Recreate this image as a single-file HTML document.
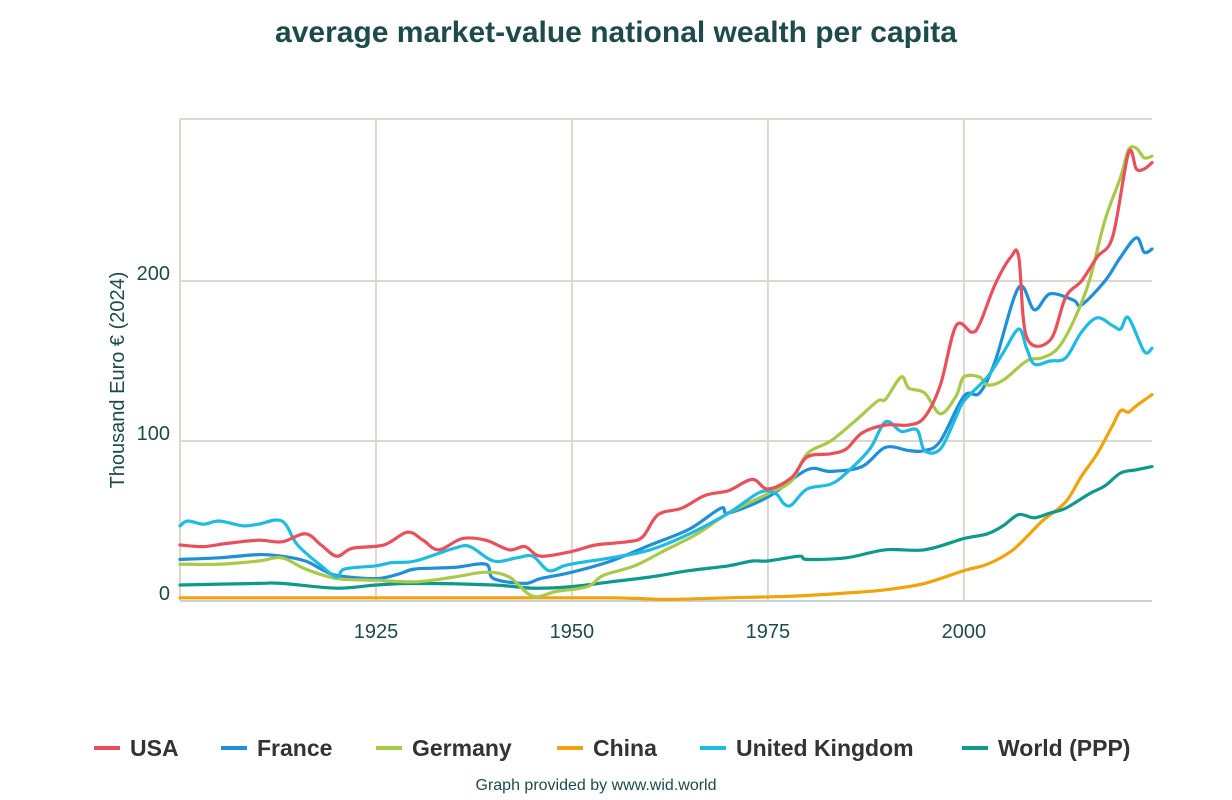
<!DOCTYPE html>
<html><head><meta charset="utf-8"><style>
body{margin:0;background:#fff;font-family:"Liberation Sans",sans-serif}
svg{display:block}
</style></head><body>
<svg id="chart" width="1232" height="800">
<text x="616" y="42" text-anchor="middle" font-size="30" font-weight="bold" fill="#1d4b4a">average market-value national wealth per capita</text>
<g id="grid"></g>
<g id="lines"></g>
<text transform="translate(124,380) rotate(-90)" text-anchor="middle" font-size="20" fill="#1d4b4a">Thousand Euro € (2024)</text>
<g id="legend"></g>
<text x="596" y="790" text-anchor="middle" font-size="16" fill="#1d4b4a">Graph provided by www.wid.world</text>
</svg>
<script>
const xTicks=[1925,1950,1975,2000];
const yTicks=[0,100,200];
const seriesNames=["USA","France","Germany","China","United Kingdom","World (PPP)"];
const colors=["#e8505b","#1f8fd8","#a8c94a","#f2a20a","#1fbbe0","#0e9a8b"];
const usaYears=[1900,1903,1906,1910,1913,1916,1918,1920,1922,1926,1929,1931,1933,1936,1939,1942,1944,1946,1950,1953,1957,1959,1961,1964,1967,1970,1973,1975,1978,1980,1983,1985,1987,1990,1993,1995,1997,1999,2001,2002,2004,2006,2007,2008,2011,2013,2015,2017,2019,2021,2022,2023,2024];
const usaValues=[35,34,36,38,37,42,35,28,33,35,43,38,32,39,38,32,34,28,31,35,37,40,54,58,66,69,76,70,77,90,92,95,105,110,110,115,135,172,168,173,198,215,215,165,163,190,200,215,228,280,270,270,274];
const franceYears=[1900,1905,1910,1913,1916,1918,1920,1925,1928,1930,1935,1939,1940,1944,1946,1950,1955,1960,1965,1969,1970,1975,1980,1983,1987,1990,1993,1995,1997,2000,2002,2004,2007,2009,2011,2014,2015,2018,2020,2022,2023,2024];
const franceValues=[26,27,29,28,25,20,16,14,17,20,21,23,14,11,14,18,25,35,45,58,55,65,82,81,84,96,94,94,100,128,130,150,196,182,192,188,185,200,215,227,218,220];
const germanyYears=[1900,1905,1910,1913,1916,1920,1925,1930,1935,1939,1942,1945,1948,1952,1954,1958,1962,1966,1970,1975,1978,1980,1983,1986,1989,1990,1992,1993,1995,1997,1999,2000,2002,2003,2005,2008,2010,2012,2014,2016,2018,2020,2021,2022,2023,2024];
const germanyValues=[23,23,25,27,20,14,13,12,15,18,15,3,6,9,16,22,32,42,55,67,75,92,100,112,125,126,140,133,130,117,128,140,140,135,138,150,152,158,175,200,238,265,282,283,277,278];
const chinaYears=[1900,1920,1940,1955,1962,1970,1978,1985,1990,1995,2000,2003,2006,2008,2010,2013,2015,2017,2019,2020,2021,2022,2024];
const chinaValues=[2,2,2,2,1,2,3,5,7,11,19,23,31,40,50,62,78,92,110,119,118,122,129];
const ukYears=[1900,1901,1903,1905,1908,1910,1913,1915,1918,1920,1921,1925,1927,1930,1935,1937,1940,1943,1945,1947,1949,1951,1955,1960,1965,1970,1974,1976,1977,1978,1980,1983,1985,1988,1990,1992,1994,1995,1997,1999,2000,2003,2005,2007,2008,2009,2011,2013,2015,2017,2019,2020,2021,2023,2024];
const ukValues=[47,50,48,50,47,48,50,35,22,15,20,22,24,25,33,34,25,27,28,19,22,24,27,32,42,55,68,67,61,60,70,73,80,95,112,106,107,94,95,115,125,140,155,170,158,148,150,152,168,177,172,170,177,156,158];
const worldYears=[1900,1910,1913,1920,1925,1930,1940,1945,1950,1955,1960,1965,1970,1973,1975,1979,1980,1985,1990,1995,2000,2003,2005,2007,2009,2011,2013,2016,2018,2020,2022,2024];
const worldValues=[10,11,11,8,10,11,10,8,9,12,15,19,22,25,25,28,26,27,32,32,39,42,47,54,52,55,58,67,72,80,82,84];
const allYears=[usaYears,franceYears,germanyYears,chinaYears,ukYears,worldYears];
const allValues=[usaValues,franceValues,germanyValues,chinaValues,ukValues,worldValues];
const X0=180,X1=1152,Y0=601,Y1=119;
const xS=y=>X0+(y-1900)*(X1-X0)/124;
const yS=v=>Y0-v*1.6;
const NS="http://www.w3.org/2000/svg";
function mk(tag,at,parent){const e=document.createElementNS(NS,tag);for(const k in at)e.setAttribute(k,at[k]);parent.appendChild(e);return e;}
const grid=document.getElementById('grid');
xTicks.forEach(t=>{
 const l=mk('line',{x1:xS(t),x2:xS(t),y1:Y1,y2:Y0,stroke:'#dcd8cc','stroke-width':2},grid);
 
 
 const tx=mk('text',{x:xS(t),y:638,'text-anchor':'middle','font-size':20,fill:'#1d4b4a'},grid);tx.textContent=t;
 
 
});
yTicks.forEach(t=>{
 const l=mk('line',{x1:X0,x2:X1,y1:yS(t),y2:yS(t),stroke:t===0?'#c8d0d8':'#dcd8cc','stroke-width':2},grid);
 
 
 const tx=mk('text',{x:170,y:yS(t)-1,'text-anchor':'end','font-size':20,fill:'#1d4b4a'},grid);tx.textContent=t;
 
 
});
const tl=mk('line',{x1:X0,x2:X1,y1:Y1,y2:Y1,stroke:'#dcd8cc','stroke-width':2},grid);


const ll=mk('line',{x1:X0,x2:X0,y1:Y1,y2:Y0,stroke:'#dcd8cc','stroke-width':2},grid);


function smooth(p){let d=`M${p[0][0]},${p[0][1]}`;for(let i=0;i<p.length-1;i++){const a=p[Math.max(0,i-1)],b=p[i],c=p[i+1],e=p[Math.min(p.length-1,i+2)];const c1=[b[0]+(c[0]-a[0])/6,b[1]+(c[1]-a[1])/6],c2=[c[0]-(e[0]-b[0])/6,c[1]-(e[1]-b[1])/6];d+=`C${c1[0]},${c1[1]} ${c2[0]},${c2[1]} ${c[0]},${c[1]}`;}return d;}
const lines=document.getElementById('lines');
[3,5,1,2,4,0].forEach(i=>{
 const pts=allYears[i].map((y,j)=>[xS(y),yS(allValues[i][j])]);
 const p=mk('path',{d:smooth(pts),fill:'none',stroke:colors[i],'stroke-width':3.2,'stroke-linejoin':'round','stroke-linecap':'round'},lines);
 
 
});
const legend=document.getElementById('legend');
const lx=[94,221,376,557,700,962];
seriesNames.forEach((n,i)=>{
 const g=mk('g',{},legend);
 
 
 mk('line',{x1:lx[i],x2:lx[i]+26,y1:748,y2:748,stroke:colors[i],'stroke-width':4},g);
 const t=mk('text',{x:lx[i]+36,y:756,'font-size':23,'font-weight':'bold',fill:'#333'},g);t.textContent=n;
});
</script>
</body></html>
